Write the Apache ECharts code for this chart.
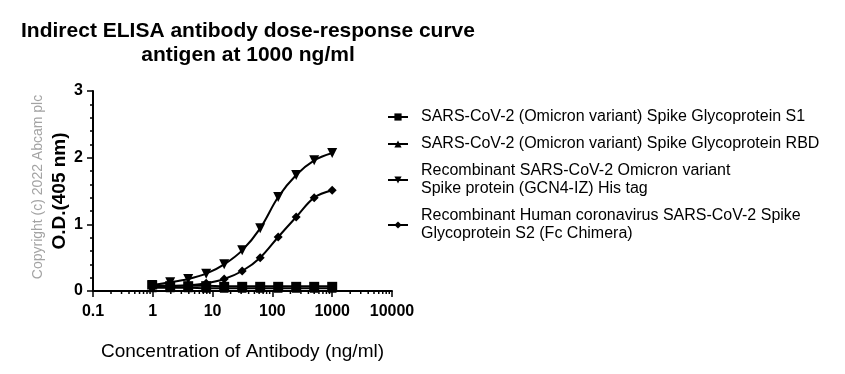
<!DOCTYPE html>
<html><head><meta charset="utf-8">
<script src="https://cdn.jsdelivr.net/npm/echarts@6/dist/echarts.min.js"></script>
<style>html,body{margin:0;padding:0;background:#fff}#c{width:845px;height:374px}</style>
</head><body><div id="c"></div>
<script>
const concentrations = [0.9765625, 1.953125, 3.90625, 7.8125, 15.625, 31.25, 62.5, 125, 250, 500, 1000];
const s1Values   = [0.09, 0.08, 0.08, 0.08, 0.07, 0.07, 0.07, 0.07, 0.07, 0.07, 0.07];
const rbdValues  = [0.05, 0.05, 0.05, 0.04, 0.04, 0.04, 0.04, 0.04, 0.04, 0.04, 0.04];
const gcn4Values = [0.09, 0.13, 0.18, 0.26, 0.40, 0.61, 0.94, 1.41, 1.74, 1.96, 2.07];
const s2Values   = [0.065, 0.07, 0.085, 0.115, 0.18, 0.30, 0.50, 0.81, 1.11, 1.40, 1.51];
const seriesNames = [
  'SARS-CoV-2 (Omicron variant) Spike Glycoprotein S1',
  'SARS-CoV-2 (Omicron variant) Spike Glycoprotein RBD',
  'Recombinant SARS-CoV-2 Omicron variant\nSpike protein (GCN4-IZ) His tag',
  'Recombinant Human coronavirus SARS-CoV-2 Spike\nGlycoprotein S2 (Fc Chimera)'
];
const xMinorTicks = [0.2,0.3,0.4,0.5,0.6,0.7,0.8,0.9,2,3,4,5,6,7,8,9,20,30,40,50,60,70,80,90,200,300,400,500,600,700,800,900,2000,3000,4000,5000,6000,7000,8000,9000];

const FONT = '"Liberation Sans", Arial, sans-serif';
const symbols = ['rect', 'triangle', 'path://M0,0L10,0L5,10Z', 'path://M5,0L10,5L5,10L0,5Z'];
const valueSets = [s1Values, rbdValues, gcn4Values, s2Values];
const sizes = [[10, 9], 9, 10, 9];

const chart = echarts.init(document.getElementById('c'), null, {renderer: 'canvas'});
const lineSeries = seriesNames.map((name, i) => ({
  name: name,
  type: 'line',
  smooth: 0.35,
  symbol: symbols[i],
  symbolSize: sizes[i],
  z: i === 0 ? 5 : 3,
  lineStyle: {color: '#000', width: 2},
  itemStyle: {color: '#000'},
  data: concentrations.map((c, k) => [c, valueSets[i][k]])
}));

chart.setOption({
  animation: false,
  backgroundColor: '#fff',
  title: {
    text: 'Indirect ELISA antibody dose-response curve\nantigen at 1000 ng/ml',
    left: 243, top: 14, textAlign: 'center',
    textStyle: {fontFamily: FONT, fontSize: 21, fontWeight: 'bold', color: '#000', lineHeight: 24}
  },
  grid: {left: 93, top: 91, width: 299, height: 200, containLabel: false},
  legend: {
    orient: 'vertical', left: 382, top: 103,
    itemWidth: 20, itemHeight: 9, itemGap: 9,
    data: seriesNames,
    textStyle: {fontFamily: FONT, fontSize: 16, color: '#000', lineHeight: 18, padding: [0, 0, 0, 8]}
  },
  xAxis: {
    type: 'log', logBase: 10, min: 0.1, max: 10000,
    name: 'Concentration of Antibody (ng/ml)', nameLocation: 'middle', nameGap: 51,
    nameTextStyle: {fontFamily: FONT, fontSize: 19, color: '#000'},
    axisLine: {lineStyle: {color: '#000', width: 2}},
    axisTick: {show: true, length: 6, lineStyle: {color: '#000', width: 1.5}},
    axisLabel: {fontFamily: FONT, fontSize: 16, fontWeight: 'bold', color: '#000', margin: 13,
      formatter: v => String(v)},
    splitLine: {show: false}
  },
  yAxis: {
    type: 'value', min: 0, max: 3, interval: 1,
    name: 'O.D.(405 nm)', nameLocation: 'middle', nameGap: 24, nameRotate: 90,
    nameTextStyle: {fontFamily: FONT, fontSize: 19, fontWeight: 'bold', color: '#000'},
    axisLine: {show: true, lineStyle: {color: '#000', width: 2}},
    axisTick: {show: true, length: 6, lineStyle: {color: '#000', width: 1.5}},
    minorTick: {show: true, splitNumber: 5, length: 3, lineStyle: {color: '#000', width: 1.5}},
    axisLabel: {fontFamily: FONT, fontSize: 16, fontWeight: 'bold', color: '#000', margin: 10},
    splitLine: {show: false}
  },
  graphic: [{
    type: 'text', x: 38, y: 187,
    rotation: Math.PI / 2,
    style: {text: 'Copyright (c) 2022 Abcam plc', fill: '#a3a3a3', font: '14px ' + FONT,
      align: 'center', verticalAlign: 'middle'}
  }],
  series: lineSeries.concat([{
    type: 'custom', silent: true, clip: false, z: 1,
    data: xMinorTicks.map(v => [v, 0]),
    renderItem: (params, api) => {
      const p = api.coord([api.value(0), 0]);
      return {type: 'line', shape: {x1: p[0], y1: p[1], x2: p[0], y2: p[1] + 3},
        style: {stroke: '#000', lineWidth: 1.5}};
    }
  }])
});
</script></body></html>
